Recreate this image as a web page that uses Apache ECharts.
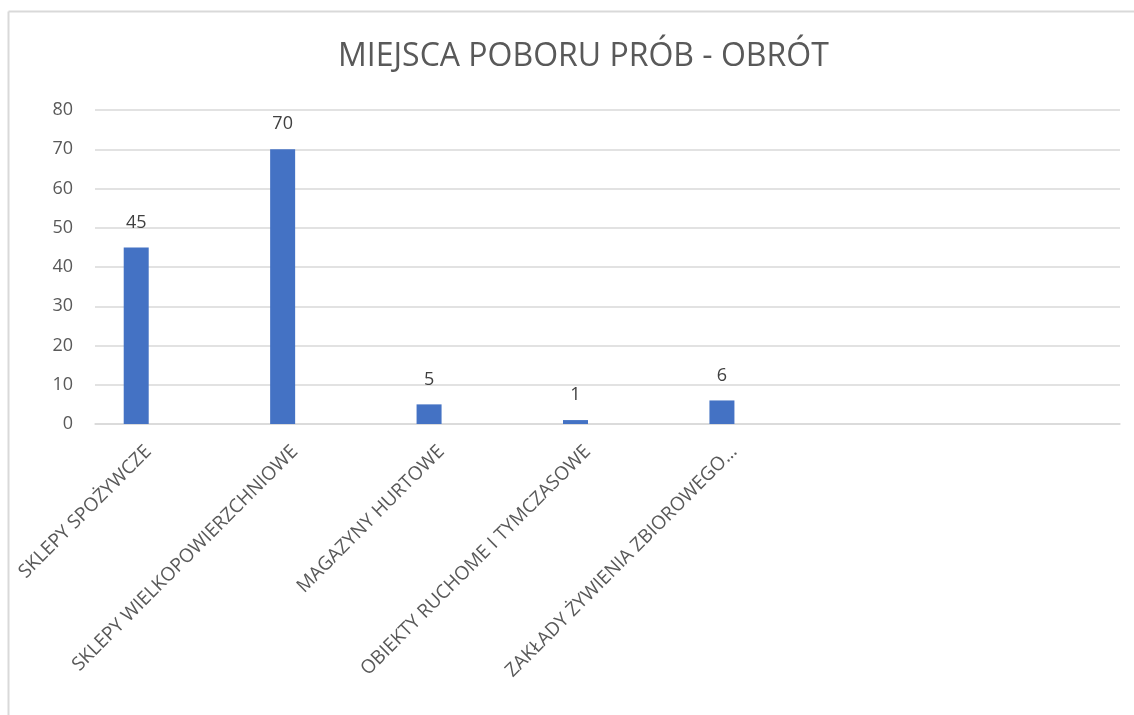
<!DOCTYPE html>
<html>
<head>
<meta charset="utf-8">
<script src="https://cdn.jsdelivr.net/npm/echarts@6/dist/echarts.min.js"></script>
<style>
  html, body { margin: 0; padding: 0; background: #fff; }
  #chart { width: 1134px; height: 715px; }
</style>
</head>
<body>
<div id="chart"></div>
<script>
// dane wykresu
var categories = ['SKLEPY SPOŻYWCZE', 'SKLEPY WIELKOPOWIERZCHNIOWE', 'MAGAZYNY HURTOWE',
    'OBIEKTY RUCHOME I TYMCZASOWE', 'ZAKŁADY ŻYWIENIA ZBIOROWEGO…', '', ''];
var values = [45, 70, 5, 1, 6, '-', '-'];
var emptySeries = ['-', '-', '-', '-', '-', '-', '-'];
var yTicks = [0, 80, 10]; // min, max, interval

var chart = echarts.init(document.getElementById('chart'));
var font = '"Open Sans", "Noto Sans", sans-serif';

chart.setOption({
    animation: false,
    backgroundColor: '#ffffff',
    textStyle: { fontFamily: font },
    title: {
        text: 'MIEJSCA POBORU PRÓB - OBRÓT',
        left: 333,
        top: 36,
        textStyle: { fontFamily: font, fontSize: 32, fontWeight: 'normal', color: '#595959' }
    },
    graphic: [
        { type: 'line', shape: { x1: 8.5, y1: 11.5, x2: 1134, y2: 11.5 }, style: { stroke: '#d9d9d9', lineWidth: 2 } },
        { type: 'line', shape: { x1: 8.5, y1: 11.5, x2: 8.5, y2: 715 }, style: { stroke: '#d9d9d9', lineWidth: 2 } }
    ],
    grid: { left: 95, right: 14, top: 110, bottom: 291, containLabel: false },
    xAxis: {
        type: 'category',
        data: categories,
        axisLine: { show: true, lineStyle: { color: '#d9d9d9', width: 1.5 } },
        axisTick: { show: false },
        axisLabel: {
            interval: 0,
            rotate: 45,
            margin: 5,
            padding: [0, 28, 0, 0],
            fontFamily: font,
            fontSize: 19,
            color: '#595959'
        }
    },
    yAxis: {
        type: 'value',
        min: yTicks[0],
        max: yTicks[1],
        interval: yTicks[2],
        axisLine: { show: false },
        axisTick: { show: false },
        splitLine: { lineStyle: { color: '#d9d9d9', width: 1.5 } },
        axisLabel: { fontFamily: font, fontSize: 18, color: '#595959', margin: 22 }
    },
    series: [
        {
            name: 'Obrót',
            type: 'bar',
            data: values,
            barWidth: 25,
            barGap: '156%',
            itemStyle: { color: '#4472c4' },
            label: {
                show: true,
                position: 'top',
                distance: 16,
                fontFamily: font,
                fontSize: 18,
                color: '#404040'
            }
        },
        {
            name: 'puste',
            type: 'bar',
            data: emptySeries,
            barWidth: 25
        }
    ]
});
</script>
</body>
</html>
